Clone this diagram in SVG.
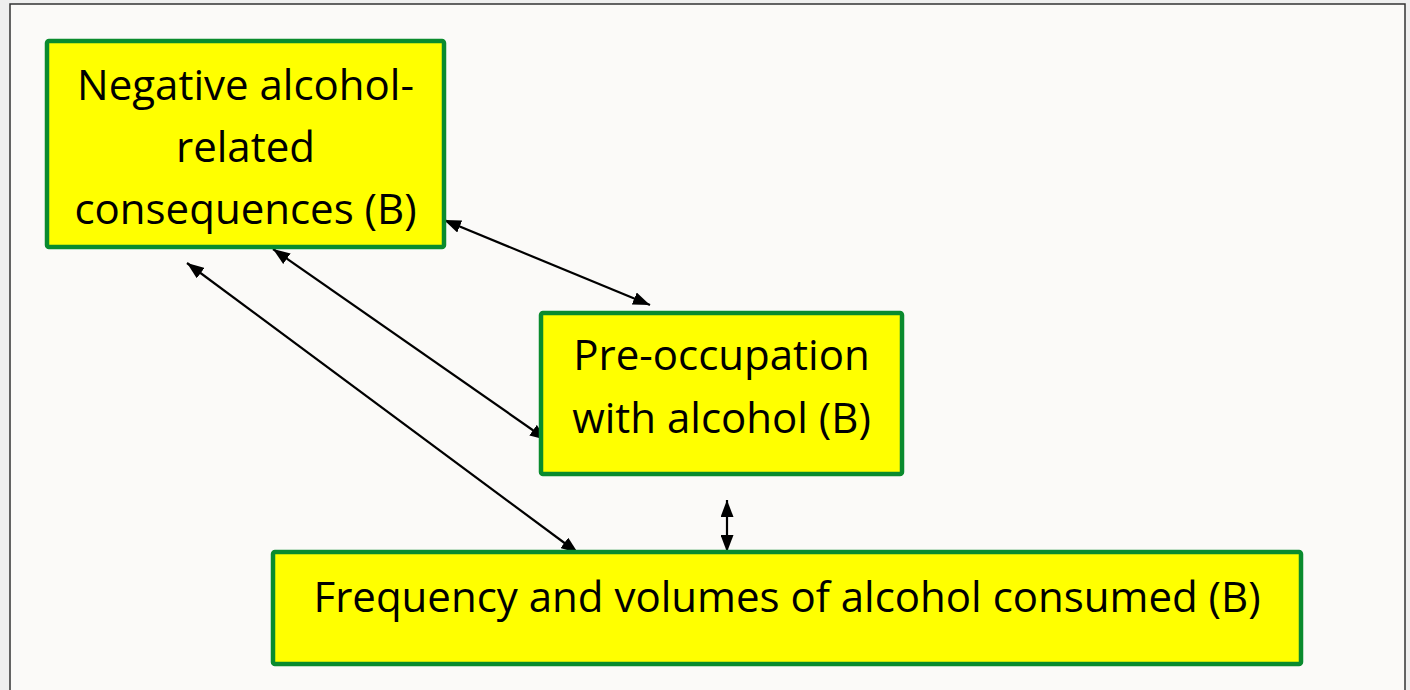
<svg xmlns="http://www.w3.org/2000/svg" width="1410" height="690" viewBox="0 0 1410 690">
<defs>
<style>
.box{fill:#FFFF00;stroke:#0A8B2E;stroke-width:4.5}
.t{font-family:"Open Sans","Liberation Sans",sans-serif;font-size:42px;fill:#000;text-anchor:middle}
.c{stroke:#000;stroke-width:2.2;fill:none;marker-start:url(#ah);marker-end:url(#ah)}
</style>
<marker id="ah" viewBox="0 0 17 13" refX="17" refY="6.500" markerWidth="17" markerHeight="13" markerUnits="userSpaceOnUse" orient="auto-start-reverse">
<path d="M0,0 L17,6.500 L0,13 z" fill="#000"/>
</marker>
</defs>
<rect x="0" y="0" width="1410" height="690" fill="#EFEFEF"/>
<rect x="10" y="4" width="1395" height="700" fill="#FBFAF8" stroke="#333" stroke-width="1.5"/>
<g id="connectors">
<line class="c" x1="444" y1="220" x2="650" y2="305"/>
<line class="c" x1="273" y1="249" x2="547" y2="440"/>
<line class="c" x1="187" y1="263" x2="578" y2="553"/>
<line class="c" x1="727" y1="500" x2="727" y2="552"/>
</g>
<g id="node-negative">
<rect class="box" x="47" y="41" width="397" height="206" rx="2"/>
<text class="t" x="245.500" y="100">Negative alcohol-</text>
<text class="t" x="245.500" y="162">related</text>
<text class="t" x="245.500" y="224">consequences (B)</text>
</g>
<g id="node-preoccupation">
<rect class="box" x="541" y="313" width="361" height="161" rx="2"/>
<text class="t" x="721.500" y="370">Pre-occupation</text>
<text class="t" x="721.500" y="433">with alcohol (B)</text>
</g>
<g id="node-frequency">
<rect class="box" x="273" y="552" width="1028" height="112" rx="2"/>
<text class="t" x="787" y="612">Frequency and volumes of alcohol consumed (B)</text>
</g>
</svg>
